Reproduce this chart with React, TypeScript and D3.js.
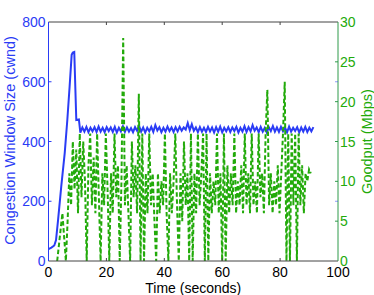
import React from 'react'
import * as d3 from 'd3'

// cwnd during slow start: [time (s), cwnd]
const rampTimes = [0, 1, 2, 2.6, 3.3, 4.4, 5.6, 6.5, 7.3, 8.0, 8.4, 8.9, 9.6, 10.5, 11.0]
const rampCwnd = [40, 45, 52, 70, 137, 249, 361, 472, 585, 690, 698, 700, 472, 474, 430]

// steady state cwnd, one sample every 0.7 s from t = 11.7
const steadyStart = 11.7
const steadyStep = 0.7
const steadyCwnd = [
  447, 433, 449, 431, 446, 434, 448, 432, 450, 433,
  446, 431, 448, 435, 447, 432, 449, 430, 446, 434,
  451, 432, 447, 433, 445, 431, 448, 436, 452, 433,
  447, 430, 446, 434, 449, 432, 455, 437, 448, 431,
  446, 433, 450, 435, 447, 432, 448, 434, 449, 436,
  447, 440, 462, 438, 458, 436, 447, 431, 448, 433,
  446, 432, 449, 434, 447, 430, 448, 433, 450, 431,
  446, 434, 448, 432, 447, 435, 449, 430, 446, 433,
  451, 432, 448, 434, 455, 436, 447, 431, 449, 433,
  446, 430, 448, 435, 452, 433, 447, 432, 449, 434,
  446, 431, 450, 433, 446, 435, 448, 430, 447, 433,
  449, 432, 446, 434, 448,
]

// goodput (Mbps), one sample every 0.6 s from t = 3
const goodputStart = 3
const goodputStep = 0.6
const goodput = [
  0, 2, 4, 6, 3, 0, 5, 11, 7, 15,
  9, 14, 6, 16, 8, 15, 10, 0, 12, 16,
  7, 13, 6, 16, 8, 0, 11, 7, 16, 9,
  0, 11, 6, 16, 8, 12, 0, 10, 28, 7,
  12, 6, 0, 15, 8, 12, 6, 21, 0, 16,
  0, 11, 6, 16, 7, 11, 5, 0, 11, 6,
  10, 7, 16, 6, 0, 11, 6, 10, 16, 7,
  0, 11, 5, 15, 7, 11, 0, 16, 0, 11,
  6, 16, 7, 11, 16, 0, 16, 0, 11, 6,
  10, 7, 16, 6, 11, 0, 16, 0, 12, 6,
  11, 7, 16, 6, 10, 7, 12, 6, 16, 7,
  11, 6, 16, 7, 10, 6, 16, 8, 11, 6,
  16, 21.5, 7, 11, 6, 10, 7, 12, 6, 11,
  16, 22.5, 0, 16, 0, 16, 7, 16, 0, 16,
  7, 12, 6, 11, 10, 11.5, 11,
]

const xTicks = [0, 20, 40, 60, 80, 100]
const cwndTicks = [0, 200, 400, 600, 800]
const goodputTicks = [0, 5, 10, 15, 20, 25, 30]

const W = 374
const H = 295
const m = { left: 48.5, right: 36, top: 22, bottom: 34 }
const blue = '#2a3cf5'
const green = '#22aa0a'
const axisGreen = '#2f9a4a'
const font = 'Liberation Sans, Arial, sans-serif'

const App = () => {
  const x = d3.scaleLinear().domain([0, 100]).range([m.left, W - m.right])
  const yL = d3.scaleLinear().domain([0, 800]).range([H - m.bottom, m.top])
  const yR = d3.scaleLinear().domain([0, 30]).range([H - m.bottom, m.top])

  const cwndPts: [number, number][] = rampTimes.map((t, i) => [t, rampCwnd[i]])
  steadyCwnd.forEach((v, i) => cwndPts.push([steadyStart + i * steadyStep, v]))
  const gpPts: [number, number][] = goodput.map((v, i) => [goodputStart + i * goodputStep, v])

  const lineL = d3.line<[number, number]>().x(d => x(d[0])).y(d => yL(d[1]))
  const lineR = d3.line<[number, number]>().x(d => x(d[0])).y(d => yR(d[1]))

  const x0 = x(0)
  const x1 = x(100)
  const yb = yL(0)
  const yt = yL(800)
  const tl = 3

  return (
    <svg width={W} height={H} style={{ display: 'block', position: 'absolute', left: 0, top: 0 }}>
      <rect width={W} height={H} fill="#fff" />
      <path d={lineL(cwndPts) || ''} fill="none" stroke={blue} strokeWidth={2} />
      <path
        d={lineR(gpPts) || ''}
        fill="none"
        stroke={green}
        strokeWidth={2}
        strokeDasharray="4.5,2.5"
      />

      {/* box */}
      <line x1={x0} x2={x1} y1={yt} y2={yt} stroke="#444" strokeWidth={1} />
      <line x1={x0} x2={x1} y1={yb} y2={yb} stroke="#444" strokeWidth={1} />
      <line x1={x0} x2={x0} y1={yt} y2={yb} stroke={blue} strokeWidth={1} />
      <line x1={x1} x2={x1} y1={yt} y2={yb} stroke={axisGreen} strokeWidth={1} />

      {/* x ticks */}
      {xTicks.map(t => (
        <g key={'x' + t}>
          {t > 0 && t < 100 && (
            <>
              <line x1={x(t)} x2={x(t)} y1={yb} y2={yb - tl} stroke="#444" />
              <line x1={x(t)} x2={x(t)} y1={yt} y2={yt + tl} stroke="#444" />
            </>
          )}
          <text x={x(t)} y={yb + 16} fontSize={14} fontFamily={font} textAnchor="middle" fill="#000">
            {t}
          </text>
        </g>
      ))}

      {/* left ticks */}
      {cwndTicks.map(t => (
        <g key={'l' + t}>
          {t > 0 && t < 800 && (
            <>
              <line x1={x0} x2={x0 + tl} y1={yL(t)} y2={yL(t)} stroke={blue} />
              <line x1={x1} x2={x1 - tl} y1={yL(t)} y2={yL(t)} stroke={blue} opacity={0.5} />
            </>
          )}
          <text x={x0 - 3} y={yL(t) + 5} fontSize={14} fontFamily={font} textAnchor="end" fill={blue}>
            {t}
          </text>
        </g>
      ))}

      {/* right ticks */}
      {goodputTicks.map(t => (
        <g key={'r' + t}>
          {t > 0 && t < 30 && (
            <line x1={x1} x2={x1 - tl} y1={yR(t)} y2={yR(t)} stroke={axisGreen} />
          )}
          <text x={x1 + 2} y={yR(t) + 5} fontSize={14} fontFamily={font} textAnchor="start" fill={green}>
            {t}
          </text>
        </g>
      ))}

      <text x={(x0 + x1) / 2} y={H - 2} fontSize={14} fontFamily={font} textAnchor="middle" fill="#000">
        Time (seconds)
      </text>
      <text
        transform={`translate(15,${(yt + yb) / 2 - 1}) rotate(-90)`}
        fontSize={14.5}
        fontFamily={font}
        textAnchor="middle"
        fill={blue}
      >
        Congestion Window Size (cwnd)
      </text>
      <text
        transform={`translate(372,${(yt + yb) / 2}) rotate(-90)`}
        fontSize={14.5}
        fontFamily={font}
        textAnchor="middle"
        fill={green}
      >
        Goodput (Mbps)
      </text>
    </svg>
  )
}

export default App
